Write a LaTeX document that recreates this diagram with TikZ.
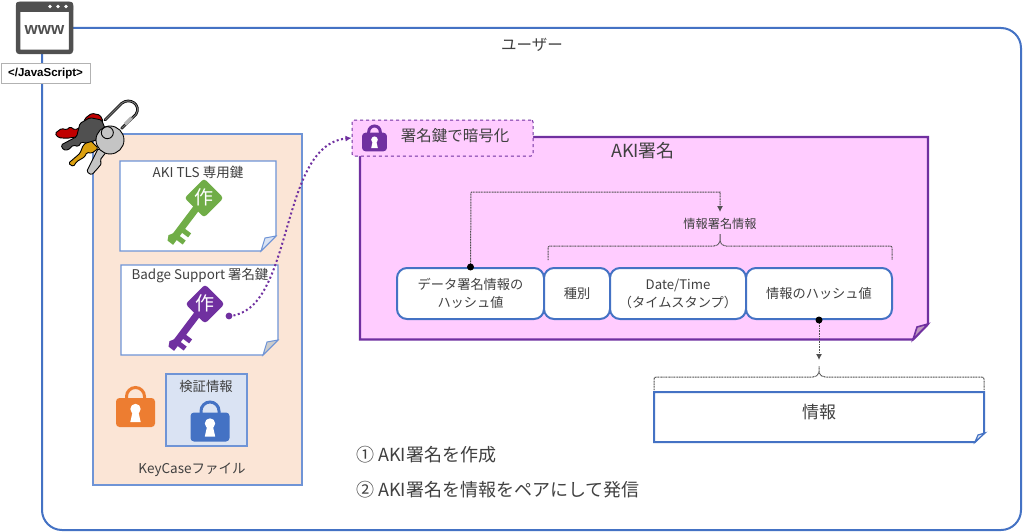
\documentclass[tikz,border=0pt]{standalone}
\usepackage{fontspec}
\setmainfont{Noto Sans CJK JP}
\newfontfamily\arialf{Liberation Sans}
\usetikzlibrary{arrows.meta}
\definecolor{blu}{HTML}{4472C4}
\definecolor{lblu}{HTML}{6F94D6}
\definecolor{pur}{HTML}{7030A0}
\definecolor{pnk}{HTML}{FFCCFF}
\definecolor{peach}{HTML}{FBE5D6}
\definecolor{pale}{HTML}{DAE3F3}
\definecolor{grn}{HTML}{70AD47}
\definecolor{org}{HTML}{ED7D31}
\definecolor{txt}{HTML}{404040}
\definecolor{darkg}{HTML}{505050}
\definecolor{keyyel}{HTML}{DBA010}
\definecolor{keyred}{HTML}{C00000}
\definecolor{keysil}{HTML}{C4C4C4}
\tikzset{
  every node/.style={text=txt,inner sep=0pt,align=center},
  lbl/.style={font=\fontsize{#1}{#1}\selectfont},
  dots/.style={draw=darkg,line width=1pt,dash pattern=on 1pt off 0.6pt},
  cellbox/.style={draw=blu,line width=2pt,fill=white,rounded corners=10pt,minimum height=51pt,font=\fontsize{13.2}{18}\selectfont},
  tipa/.style={-{Latex[length=6pt,width=6pt]}},
  blackdot/.style={circle,fill=black,minimum size=7pt},
  ringpart/.style={draw=black,line width=0.9pt,rounded corners=1.5pt},
}
% key: #1 centre of head, #2 colour
\newcommand{\keyicon}[2]{%
\begin{scope}[shift={(#1)}]
 \fill[#2,rounded corners=3pt] (0,-19.5)--(19.5,0)--(0,19.5)--(-19.5,0)--cycle;
 \begin{scope}[rotate=233]
  \fill[#2] (12,-3.5) rectangle (51,3.5);
  \fill[#2] (51,-3.5)--(56,-3.5)--(56,3.5)--(51,6)--(47,3.5)--cycle;
  \fill[#2] (36,-3)--(36,-11)--(41,-11)--(41,-3)--cycle;
  \fill[#2] (45,-3)--(45,-11)--(50,-11)--(50,-3)--cycle;
 \end{scope}
 \node[text=white,lbl=19] at (0,-1) {作};
\end{scope}}
% lock: #1 centre of body, #2 colour, #3 scale
\newcommand{\lockicon}[3]{%
\begin{scope}[shift={(#1)},scale=#3]
 \draw[#2,line width=3pt] (-9,-12) -- (-9,-16) arc[start angle=180,end angle=0,x radius=9,y radius=-9] -- (9,-12);
 \fill[#2,rounded corners=3.5pt] (-19.5,-14.5) rectangle (19.5,14.5);
 \fill[white] (0,-3.5) circle[radius=5.2];
 \fill[white] (-2.6,-2) -- (2.6,-2) -- (5.2,9.5) -- (-5.2,9.5) -- cycle;
\end{scope}}
\begin{document}
\begin{tikzpicture}[x=1pt,y=-1pt]
\useasboundingbox (0,0) rectangle (1024,532);
\fill[white] (0,0) rectangle (1024,532);
% outer frame
\draw[blu,line width=2pt,rounded corners=20pt] (42,28) rectangle (1021,530);
\node[lbl=15.5] (user) at (532,45) {ユーザー};
% browser icon
\draw[darkg,line width=4.5pt,fill=white,rounded corners=2pt] (18,4) rectangle (71,52);
\fill[darkg,rounded corners=2pt] (16,2) rectangle (73,12);
\foreach \p in {50,58,66}{\fill[white] (\p,6.5) circle[radius=1.9];}
\node[text=darkg,font=\arialf\bfseries\fontsize{17}{17}\selectfont] (www) at (44.5,30) {www};
\node[draw=black!30,line width=1pt,fill=white,minimum width=89pt,minimum height=20pt,text=black,font=\arialf\bfseries\fontsize{11.5}{11.5}\selectfont] (js) at (45.5,73.5) {</JavaScript>};
% keycase
\draw[lblu,line width=1.3pt,fill=peach] (93,134) rectangle (302,485);
\node[lbl=13.5] (kc) at (192,470) {KeyCaseファイル};
% key ring
\begin{scope}[shift={(50,95)},x=0.3333pt,y=-0.3333pt]
 \draw[black,line width=2.6pt,line cap=round] (165,75) -- (215,25) .. controls (240,5) and (275,30) .. (258,58) -- (215,100);
 \draw[black!55,line width=1.1pt,line cap=round] (165,75) -- (215,25) .. controls (240,5) and (275,30) .. (258,58) -- (215,100);
 \draw[black!30,line width=3.5pt] (225,88) -- (245,68);
 \filldraw[ringpart,fill=keyred] (15,115)--(35,100)--(50,105)--(60,95)--(75,105)--(100,92)--(105,70)--(125,55)--(150,60)--(160,80)--(120,120)--(50,130)--(25,128)--cycle;
 \filldraw[ringpart,fill=keyyel] (55,205)--(90,175)--(100,150)--(120,135)--(145,160)--(125,175)--(110,172)--(105,185)--(80,200)--(70,215)--cycle;
 \filldraw[ringpart,fill=darkg] (33,150)--(80,125)--(90,85)--(120,68)--(155,75)--(165,100)--(140,135)--(105,145)--(95,140)--(85,155)--(70,150)--(55,165)--(40,165)--cycle;
 \filldraw[ringpart,fill=keysil] (145,160)--(125,200)--(110,230)--(125,240)--(145,218)--(155,205)--(150,195)--(168,172)--cycle;
 \filldraw[ringpart,fill=keysil] (180,135) circle[radius=42];
 \draw[black,line width=0.9pt] (172,113) circle[radius=18];
\end{scope}
% notes
\draw[lblu,line width=1.3pt,fill=white] (120,161)--(276,161)--(276,236)--(261,251)--(120,251)--cycle;
\draw[lblu,line width=1pt,fill=pale] (261,251)--(265,238)--(276,236)--cycle;
\node[lbl=13.5] (n1) at (198,172) {AKI TLS 専用鍵};
\keyicon{204,198}{grn}
\draw[lblu,line width=1.3pt,fill=white] (121,265)--(278,265)--(278,340)--(263,355)--(121,355)--cycle;
\draw[lblu,line width=1pt,fill=black!20] (263,355)--(267,342)--(278,340)--cycle;
\node[lbl=13.4] (n2) at (200,276) {Badge Support 署名鍵};
\keyicon{205,304}{pur}
% locks
\lockicon{135.5,412.5}{org}{1}
\draw[lblu,line width=1.3pt,fill=pale] (166,374) rectangle (247,446);
\node[lbl=13.3] (ver) at (206,386) {検証情報};
\lockicon{210,427}{blu}{1}
% AKI box
\draw[pur,line width=2.4pt,fill=pnk] (360,137)--(928,137)--(928,324)--(913,339.5)--(360,339.5)--cycle;
\draw[pur,line width=1.6pt,fill=black!25!pnk] (913,339.5)--(917,327)--(928,324)--cycle;
\node[lbl=18] (aki) at (643,151) {AKI署名};
\node[draw=pur,dashed,line width=1pt,fill=pnk,rounded corners=2pt,minimum width=181pt,minimum height=36pt] (tag) at (442.5,138) {};
\node[lbl=15.5] (tagt) at (455,136) {署名鍵で暗号化};
\lockicon{374.5,142}{pur}{0.64}
% cells
\node[cellbox,minimum width=147pt] (c1) at (470.5,293.5) {データ署名情報の\\ハッシュ値};
\node[cellbox,minimum width=66pt] (c2) at (577,293.5) {種別};
\node[cellbox,minimum width=136pt] (c3) at (678,293.5) {Date/Time\\（タイムスタンプ）};
\node[cellbox,minimum width=146pt] (c4) at (819,293.5) {情報のハッシュ値};
\node[lbl=12.2] (sig) at (720,224) {情報署名情報};
% info box
\draw[blu,line width=2pt,fill=white] (654,392)--(984,392)--(984,433)--(975,442)--(654,442)--cycle;
\draw[blu,line width=1.2pt,fill=pale] (975,442)--(978,435)--(985,433)--cycle;
\node[lbl=17] (info) at (819,412) {情報};
% brackets
\coordinate (b1l) at (548,260); \coordinate (b1r) at (892,260); \coordinate (b1t) at (720,233);
\draw[dots,rounded corners=2pt] (b1l) |- (716,246) -- (720,243) -- (b1t) -- (720,243) -- (724,246) -| (b1r);
\coordinate (b2l) at (654,390); \coordinate (b2r) at (984,390); \coordinate (b2t) at (819,365);
\draw[dots,rounded corners=2pt] (b2l) |- (815,377) -- (819,374) -- (b2t) -- (819,374) -- (823,377) -| (b2r);
% connectors
\coordinate (d1) at (c1.north);
\coordinate (d4) at (c4.south);
\coordinate (a1) at (720,212);
\coordinate (a4) at (819,360);
\draw[dots,tipa] (d1) -- (471,192) -| (a1);
\draw[dots,tipa] (d4) -- (a4);
\node[blackdot] at (d1) {};
\node[blackdot] at (d4) {};
% text
\node[lbl=18,anchor=west] (s1) at (356,455) {① AKI署名を作成};
\node[lbl=18,anchor=west] (s2) at (356,490) {② AKI署名を情報をペアにして発信};
% purple curve
\coordinate (kd) at (229,316);
\fill[pur] (kd) circle[radius=3.4];
\draw[pur,line width=2pt,dash pattern=on 2pt off 2.5pt,-{Latex[length=6pt,width=6pt]}] (kd) .. controls (295,312) and (278,145) .. (tag.west);
\end{tikzpicture}
\end{document}
